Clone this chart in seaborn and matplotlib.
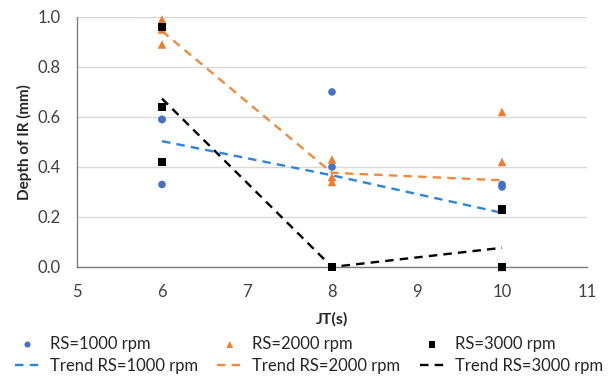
import numpy as np
import pandas as pd
import matplotlib
matplotlib.use("Agg")
import matplotlib.pyplot as plt
import seaborn as sns

# 数据：每个JT下三次测量
JT = [6, 6, 6, 8, 8, 8, 10, 10, 10]
RS_1000 = [0.59, 0.59, 0.33, 0.70, 0.40, 0.00, 0.32, 0.33, 0.00]
RS_2000 = [0.99, 0.95, 0.89, 0.43, 0.36, 0.34, 0.62, 0.42, 0.00]
RS_3000 = [0.96, 0.64, 0.42, 0.00, 0.00, 0.00, 0.23, 0.00, 0.00]

SERIES = ["RS=1000 rpm", "RS=2000 rpm", "RS=3000 rpm"]
MARKERS = {"RS=1000 rpm": "o", "RS=2000 rpm": "^", "RS=3000 rpm": "s"}
POINT_COLORS = {"RS=1000 rpm": "#4472C4", "RS=2000 rpm": "#ED7D31", "RS=3000 rpm": "#000000"}
TREND_COLORS = {"RS=1000 rpm": "#2A86D6", "RS=2000 rpm": "#F08A3E", "RS=3000 rpm": "#000000"}
SIZES = {"RS=1000 rpm": 30, "RS=2000 rpm": 38, "RS=3000 rpm": 36}

sns.set_style("white")
plt.rcParams['font.family'] = ['Lato', 'DejaVu Sans']

df = pd.DataFrame({
    "JT": JT * 3,
    "Depth": RS_1000 + RS_2000 + RS_3000,
    "RS": [s for s in SERIES for _ in JT],
})

fig = plt.figure(figsize=(6.13, 3.80), dpi=100)
ax = fig.add_axes([0.1256, 0.2974, 0.832, 0.658])

handles_pts = {}
handles_tr = {}
for s in SERIES:
    sub = df[df["RS"] == s]
    sns.lineplot(data=sub, x="JT", y="Depth", estimator="mean", errorbar=None,
                 color=TREND_COLORS[s], linewidth=1.7, ax=ax, zorder=2)
    ln = ax.lines[-1]
    ln.set_dashes((3.6, 2.6))
    ln.set_clip_on(False)
    handles_tr[s] = ln

for i, s in enumerate(SERIES):
    sub = df[df["RS"] == s]
    sns.scatterplot(data=sub, x="JT", y="Depth", marker=MARKERS[s], s=SIZES[s],
                    color=POINT_COLORS[s], edgecolor="none", linewidth=0,
                    ax=ax, zorder=3 + i, clip_on=False)
    handles_pts[s] = ax.collections[-1]

ax.set_xlim(5, 11)
ax.set_ylim(0, 1.0)
ax.set_xticks(range(5, 12))
ax.set_yticks(np.arange(0, 1.01, 0.2))
ax.yaxis.set_major_formatter(matplotlib.ticker.FormatStrFormatter('%.1f'))
ax.grid(axis='y', color='#D9D9D9', linewidth=1.0)
ax.set_axisbelow(True)
for sp in ["top", "right"]:
    ax.spines[sp].set_visible(False)
for sp in ["left", "bottom"]:
    ax.spines[sp].set_color('#7F7F7F')
    ax.spines[sp].set_linewidth(1.0)
ax.tick_params(axis='x', direction='in', length=4, color='#7F7F7F', labelsize=12,
               labelcolor='#404040', pad=12)
ax.tick_params(axis='y', length=0, labelsize=12, labelcolor='#404040', pad=12)
ax.set_xlabel("JT(s)", fontsize=11.5, fontweight='bold', labelpad=9)
ax.set_ylabel("Depth of IR (mm)", fontsize=11, fontweight='bold', labelpad=4)

# 图例：第一行散点，第二行趋势线
handles = []
labels = []
for s in SERIES:
    handles += [handles_pts[s], handles_tr[s]]
    labels += [s, "Trend " + s]
fig.legend(handles, labels, loc='upper left', bbox_to_anchor=(15 / 613, 0.116),
           ncol=3, frameon=False, fontsize=12, handlelength=1.5,
           columnspacing=1.15, handletextpad=0.6, labelspacing=0.35,
           borderpad=0, borderaxespad=0, markerscale=0.8)

fig.savefig("out.png", dpi=100)
